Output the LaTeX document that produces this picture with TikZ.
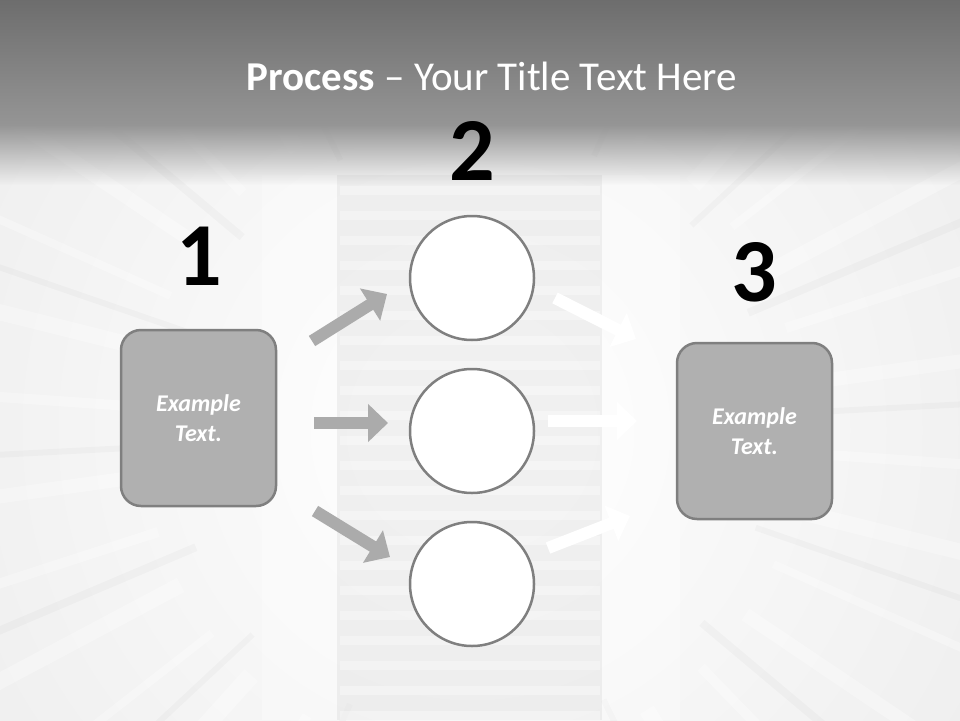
\documentclass[tikz,border=0pt]{standalone}
\usepackage{fontspec}
\setmainfont{Carlito}
\usetikzlibrary{arrows.meta,fadings}
\definecolor{boxfill}{HTML}{B0B0B0}
\definecolor{edgegray}{HTML}{7F7F7F}
\definecolor{inarrow}{HTML}{ABABAB}
\definecolor{bandtop}{HTML}{6A6A6A}
\definecolor{bandbot}{HTML}{959595}
\definecolor{basegray}{HTML}{E6E6E6}
\definecolor{colgray}{HTML}{E2E2E2}
\tikzfading[name=fadedown, top color=transparent!0, bottom color=transparent!100]
\begin{document}
\begin{tikzpicture}[x=1pt,y=-1pt,
  box/.style={rectangle, rounded corners=20pt, fill=boxfill, draw=edgegray, line width=2.5pt,
    minimum width=155pt, minimum height=176pt, align=center, text=white,
    font=\bfseries\itshape\fontsize{24}{30}\selectfont},
  ring/.style={circle, fill=white, draw=edgegray, line width=2.5pt, minimum size=124pt, inner sep=0pt},
  num/.style={inner sep=0pt, font=\bfseries\fontsize{90}{90}\selectfont, text=black},
  inarr/.style={draw=inarrow, line width=12pt, -{Triangle[width=37pt,length=20pt]}},
  outarr/.style={draw=white, line width=12pt, -{Triangle[width=37pt,length=20pt]}},
  streak/.style={line width=#1, white, opacity=0.3},
  dstreak/.style={line width=#1, black, opacity=0.025}]
\useasboundingbox (0,0) rectangle (960,720);
\begin{scope}
\clip (0,0) rectangle (960,720);
% base
\fill[basegray] (0,0) rectangle (960,720);
\shade[inner color=white, outer color=basegray] (472,430) circle (900);
% radial streaks
\foreach \a/\w in {-72/14,-60/10,-48/18,-38/8,-28/16,-18/10,-8/14,4/10,14/16,24/8,34/14,46/10,58/16,70/8,
                   108/14,120/10,132/18,142/8,152/16,162/10,172/14,184/10,194/16,204/8,214/14,226/10,238/16,250/8}
  { \draw[streak=\w] (472,430) ++(\a:330) -- ++(\a:700); }
\foreach \a/\w in {-66/6,-43/6,-23/8,-3/6,19/6,40/8,64/6,114/6,137/6,157/8,177/6,199/6,220/8,244/6}
  { \draw[dstreak=\w] (472,430) ++(\a:300) -- ++(\a:700); }
% central column with soft bands
\fill[colgray, opacity=0.45] (337,175) rectangle (602,720);
\foreach \y in {190,215,...,720}
  { \draw[white, line width=9pt, opacity=0.35] (340,\y) -- (600,\y); }
\fill[white, opacity=0.3] (262,175) rectangle (337,720);
\fill[white, opacity=0.3] (602,175) rectangle (680,720);
% top band
\shade[top color=bandtop, bottom color=bandbot] (-10,-10) rectangle (970,125);
\fill[bandbot, path fading=fadedown] (-10,124.5) rectangle (970,185);
\end{scope}

% title
\node[text=white, font=\fontsize{41}{46}\selectfont] (title) at (492,76)
  {\textbf{Process} – Your Title Text Here};

% numbers
\node[num] (n1) at (199,256) {1};
\node[num] (n2) at (472,151) {2};
\node[num] (n3) at (754,272) {3};

% boxes
\node[box] (b1) at (198.5,418) {Example\\Text.};
\node[box] (b3) at (754.5,431) {Example\\Text.};

% circles
\node[ring] (c1) at (472,278) {};
\node[ring] (c2) at (472,431) {};
\node[ring] (c3) at (472,584) {};

% arrow end points
\coordinate (i1s) at (312,341); \coordinate (i1e) at (387,294);
\coordinate (i2s) at (314,423); \coordinate (i2e) at (388,423);
\coordinate (i3s) at (315,511); \coordinate (i3e) at (390,557);
\coordinate (o1s) at (555,298); \coordinate (o1e) at (636,339);
\coordinate (o2s) at (548,421); \coordinate (o2e) at (637,421);
\coordinate (o3s) at (548,548); \coordinate (o3e) at (630,516);

\draw[inarr] (i1s) -- (i1e);
\draw[inarr] (i2s) -- (i2e);
\draw[inarr] (i3s) -- (i3e);
\draw[outarr] (o1s) -- (o1e);
\draw[outarr] (o2s) -- (o2e);
\draw[outarr] (o3s) -- (o3e);
\end{tikzpicture}
\end{document}
